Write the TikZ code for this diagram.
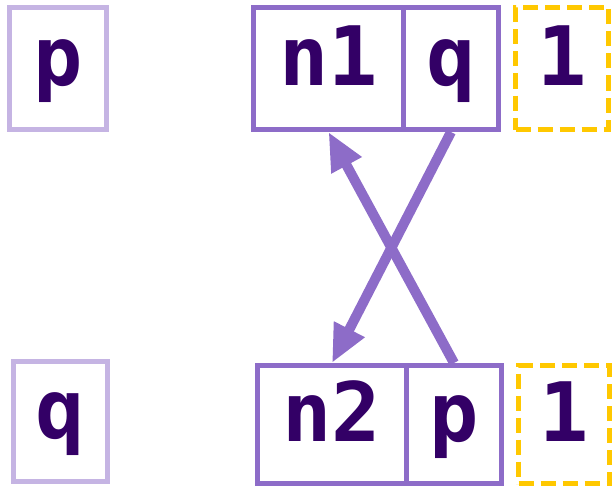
\documentclass[tikz,border=0pt]{standalone}
\usepackage{fontspec}
\newfontfamily\labfont{DejaVu Sans Mono}[BoldFont={DejaVu Sans Mono Bold}]
\usetikzlibrary{arrows.meta}
\definecolor{lightp}{HTML}{C5B4E3}
\definecolor{midp}{HTML}{8D6CC8}
\definecolor{darkp}{HTML}{330066}
\definecolor{gold}{HTML}{FFC800}
\begin{document}
\begin{tikzpicture}[x=1pt,y=-1pt,
  cell/.style={draw, line width=5pt, inner sep=0pt, text=darkp,
    font=\labfont\bfseries\fontsize{82}{84}\selectfont,
    text height=60pt, text depth=26pt},
  varbox/.style={cell, draw=lightp},
  objbox/.style={cell, draw=midp},
  cntbox/.style={cell, draw=gold, dash pattern=on 15pt off 7pt},
  ptr/.style={draw=midp, line width=10pt, -{Triangle[length=38pt,width=32pt]}}]
\useasboundingbox (0,0) rectangle (613,487);
% top row
\node[varbox, minimum width=97pt, minimum height=122pt] (pv) at (58,68.5) {p};
\node[objbox, minimum width=150pt, minimum height=122pt] (n1) at (328.5,68.5) {n1};
\node[objbox, minimum width=95pt, minimum height=122pt] (q1) at (451,68.5) {q};
\node[cntbox, minimum width=93pt, minimum height=122pt] (c1) at (562,68.5) {1};
% bottom row
\node[varbox, minimum width=94pt, minimum height=120pt] (qv) at (60.5,421) {q};
\node[objbox, minimum width=149pt, minimum height=118pt] (n2) at (332,424.5) {n2};
\node[objbox, minimum width=95pt, minimum height=118pt] (p2) at (454,424.5) {p};
\node[cntbox, minimum width=91pt, minimum height=118pt] (c2) at (564,424.5) {1};
% pointers
\draw[ptr] (q1.south) -- (n2.north);
\draw[ptr] (p2.north) -- (n1.south);
\end{tikzpicture}
\end{document}
